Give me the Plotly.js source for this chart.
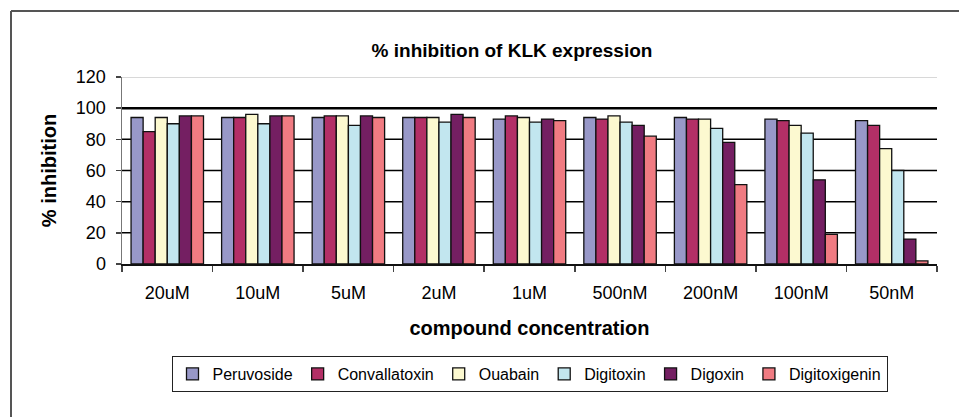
<!DOCTYPE html>
<html>
<head>
<meta charset="utf-8">
<script src="https://cdn.plot.ly/plotly-3.0.1.min.js"></script>
<style>html,body{margin:0;padding:0;background:#fff;}#chart{width:959px;height:417px;}</style>
</head>
<body>
<div id="chart"></div>
<script>
var categories = ["20uM","10uM","5uM","2uM","1uM","500nM","200nM","100nM","50nM"];
var seriesNames = ["Peruvoside","Convallatoxin","Ouabain","Digitoxin","Digoxin","Digitoxigenin"];
var peruvoside    = [94, 94, 94, 94, 93, 94, 94, 93, 92];
var convallatoxin = [85, 94, 95, 94, 95, 93, 93, 92, 89];
var ouabain       = [94, 96, 95, 94, 94, 95, 93, 89, 74];
var digitoxin     = [90, 90, 89, 91, 91, 91, 87, 84, 60];
var digoxin       = [95, 95, 95, 96, 93, 89, 78, 54, 16];
var digitoxigenin = [95, 95, 94, 94, 92, 82, 51, 19, 2];
var seriesValues = [peruvoside, convallatoxin, ouabain, digitoxin, digoxin, digitoxigenin];
var seriesColors = ["#9898c8","#b32f66","#fcf9d0","#c2e6ef","#741f62","#f07b82"];
var yTicks = [0,20,40,60,80,100,120];

var font = "Liberation Sans, Arial, sans-serif";
var traces = seriesNames.map(function(n,i){
  return {type:"bar", name:n, x:categories, y:seriesValues[i],
    marker:{color:seriesColors[i], line:{color:"#111", width:1.3}}};
});

// plot area: x 122..937, y 77..264
var pl=122, pr=937, pt=77, pb=264;
var pw=pr-pl, ph=pb-pt;
function px(x){return (x-pl)/pw;}
function py(y){return (pb-y)/ph;}

var shapes = [];
yTicks.forEach(function(v){
  if (v === 0) return;
  var c = v === 120 ? "#d8d8d8" : "#000";
  var w = v === 100 ? 2.5 : (v === 120 ? 2 : 1.5);
  shapes.push({type:"line", xref:"paper", yref:"y", x0:0, x1:1, y0:v, y1:v, line:{color:c, width:w}, layer:"below"});
});
shapes.push({type:"line", xref:"paper", yref:"paper", x0:px(11), x1:px(1000), y0:py(11), y1:py(11), line:{color:"#555", width:2}});
shapes.push({type:"line", xref:"paper", yref:"paper", x0:px(11), x1:px(11), y0:py(11), y1:py(430), line:{color:"#555", width:2}});

var layout = {
  width:959, height:417,
  margin:{l:pl, r:959-pr, t:pt, b:417-pb, pad:0},
  paper_bgcolor:"#fff", plot_bgcolor:"#fff",
  font:{family:font, color:"#000", size:17},
  barmode:"group", bargap:0.2, bargroupgap:0,
  showlegend:true,
  title:{text:"<b>% inhibition of KLK expression</b>", font:{family:font, size:19, color:"#000"},
    x:512/959, xref:"container", xanchor:"center", y:1-50/417, yref:"container", yanchor:"middle"},
  xaxis:{type:"category", tickson:"boundaries", ticks:"outside", ticklen:6, tickcolor:"#444", tickwidth:1.5,
    showline:true, linecolor:"#111", linewidth:1.5, showgrid:false, ticklabelstandoff:12,
    tickfont:{family:font, size:18, color:"#000"},
    title:{text:"<b>compound concentration</b>", font:{family:font, size:20, color:"#000"}, standoff:19}},
  yaxis:{range:[0,120], tickvals:yTicks, ticks:"outside", ticklen:5, tickcolor:"#444", tickwidth:1.5,
    showline:true, linecolor:"#777", linewidth:1.5, showgrid:false, ticklabelstandoff:6,
    zeroline:false, tickfont:{family:font, size:18, color:"#000"},
    title:{text:"<b>% inhibition</b>", font:{family:font, size:20, color:"#000"}, standoff:14}},
  legend:{orientation:"h", x:0.5, xanchor:"center", y:py(356), yanchor:"top",
    bordercolor:"#222", borderwidth:1, bgcolor:"#fff",
    font:{family:font, size:16, color:"#000"}, itemwidth:30, tracegroupgap:0},
  shapes:shapes
};
Plotly.newPlot("chart", traces, layout, {displayModeBar:false, staticPlot:true});
</script>
</body>
</html>
